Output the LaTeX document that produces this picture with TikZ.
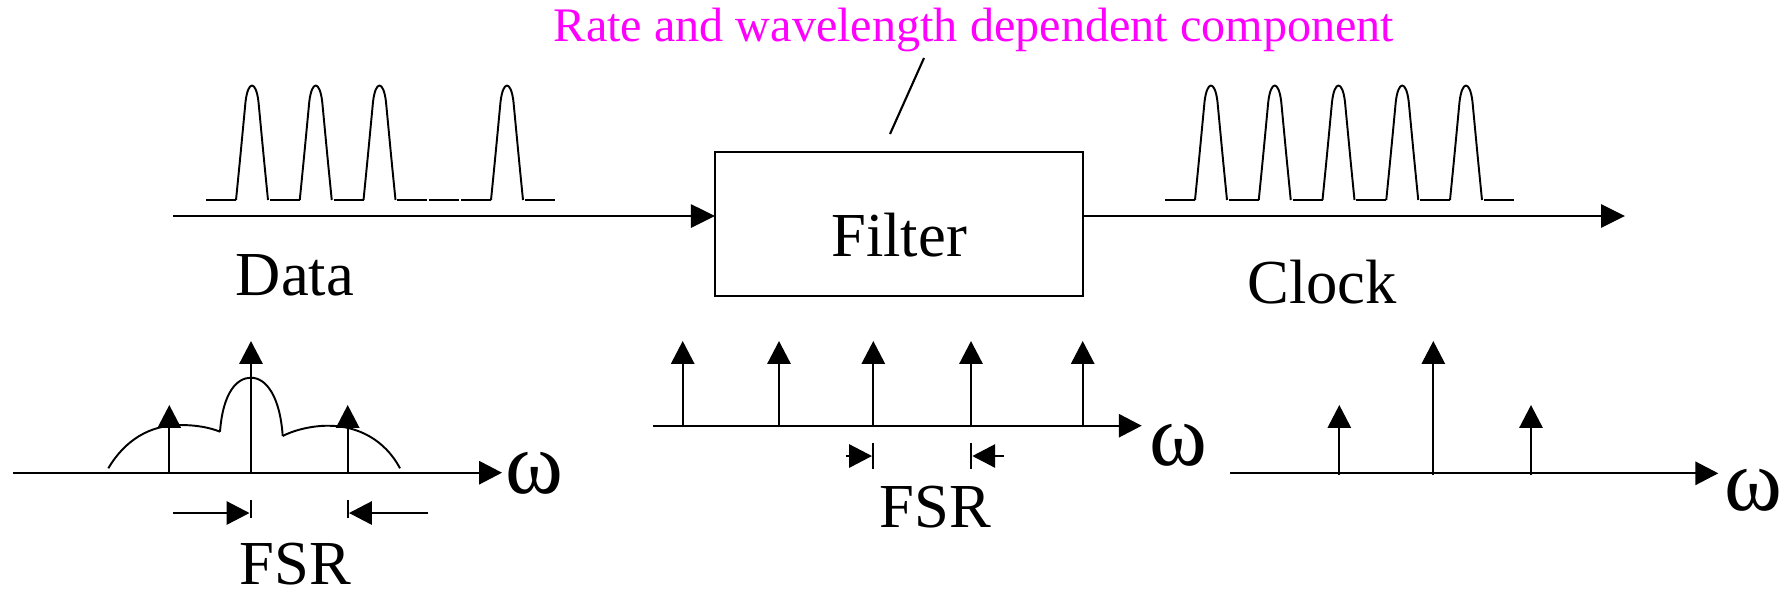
\documentclass[tikz,border=0pt]{standalone}
\usepackage{fontspec}
\setmainfont{Liberation Serif}
\usepackage{xcolor}
\definecolor{tagpink}{RGB}{255,0,255}
\usetikzlibrary{arrows.meta, positioning}

\begin{document}
\begin{tikzpicture}[
        x=0.01cm, y=-0.01cm,
        every node/.style={inner sep=0pt, outer sep=0pt},
        block/.style={
            rectangle,
            draw,
            line width=0.75pt,
            minimum width=3.68cm,
            minimum height=1.44cm,
            text height=0.64cm,
            text depth=0pt,
            font=\fontsize{17.8}{20}\selectfont
        },
        caption/.style={anchor=base, font=\fontsize{17.8}{20}\selectfont},
        note/.style={anchor=base, text=tagpink, font=\fontsize{13.7}{16}\selectfont},
        omega/.style={anchor=west, font=\fontsize{25}{27}\selectfont},
        line/.style={draw, line width=0.6pt, -{Triangle[length=6.8pt, width=6.6pt]}},
        spike/.style={line width=0.6pt, -{Triangle[length=6.5pt, width=6.6pt]}},
        wave/.style={line width=0.55pt, line join=round}
    ]
        \useasboundingbox (0,0) rectangle (1788,596);

        % Nodes
        \node [block] (filter) at (899,224) {Filter};
        \node [note] (tag) at (974,41) {Rate and wavelength dependent component};
        \node [caption] (data) at (295,295) {Data};
        \node [caption] (clock) at (1322,303) {Clock};

        \coordinate (tagtop) at (924,58);
        \coordinate (tagbot) at (890,134);
        \coordinate (datain) at (173,216);
        \coordinate (clkout) at (1625,216);

        % Edges
        \draw [line width=0.6pt] (tagtop) -- (tagbot);
        \draw [line] (datain) -- (datain -| filter.west);
        \draw [line] (clkout -| filter.east) -- (clkout);

        % Pulse trains (1 = pulse, 0 = empty slot, 9 = tail)
        \foreach \x in {206,1165} {
            \ifnum\x=206 \def\bits{1,1,1,0,1,9}\else \def\bits{1,1,1,1,1,9}\fi
            \foreach \b [count=\k from 0] in \bits {
                \pgfmathsetmacro{\xs}{\x+63.75*\k}
                \draw [wave] (\xs,200) -- (\xs+30,200);
                \ifnum\b=1
                    \draw [wave] (\xs+30,200) .. controls (\xs+34,160) .. (\xs+39.5,102)
                        .. controls (\xs+42,80) and (\xs+50,80) .. (\xs+52.5,102)
                        .. controls (\xs+58,160) .. (\xs+62,200);
                \fi
                \ifnum\b=0
                    \draw [wave] (\xs+32,200) -- (\xs+62,200);
                \fi
            }
        }

        % Spectrum of the data
        \coordinate (ax1s) at (13,472.7);
        \coordinate (ax1e) at (502,472.7);
        \draw [spike] (ax1s) -- (ax1e);
        \node [omega] (w1) at (505,473) {ω};
        \draw [spike] (169.3,474) -- (169.3,405);
        \draw [spike] (251,474) -- (251,341);
        \draw [spike] (347.7,474) -- (347.7,405);
        \draw [wave] (108.3,468.3) .. controls (125,440) and (150,425) .. (180,425)
            .. controls (198,425) and (211,428) .. (220,431.7);
        \draw [wave] (220,431.7) .. controls (223,392) and (237,377.7) .. (251,377.7)
            .. controls (266,377.7) and (280,396) .. (282.7,436);
        \draw [wave] (282.7,436) .. controls (292,431) and (310,425.7) .. (328,425.7)
            .. controls (358,425.7) and (385,440) .. (400,468.3);
        \draw [line width=0.6pt] (251,500) -- (251,518) (347.7,500) -- (347.7,518);
        \draw [spike] (173,513) -- (249.5,513);
        \draw [spike] (428.3,513) -- (349,513);
        \node [caption] (fsr1) at (295.5,584) {FSR};

        % Filter response
        \coordinate (ax2s) at (653,425.7);
        \coordinate (ax2e) at (1141.7,425.7);
        \draw [spike] (ax2s) -- (ax2e);
        \node [omega] (w2) at (1149,445) {ω};
        \foreach \x in {682.7,779,873.3,971,1082.7}
            \draw [spike] (\x,427) -- (\x,341);
        \draw [line width=0.6pt] (873.3,443.3) -- (873.3,469.3) (971,443.3) -- (971,469.3);
        \draw [spike] (845.7,456) -- (872,456);
        \draw [spike] (1004,456) -- (972.3,456);
        \node [caption] (fsr2) at (935.3,527) {FSR};

        % Spectrum of the clock
        \coordinate (ax3s) at (1230,473.3);
        \coordinate (ax3e) at (1718.3,473.3);
        \draw [spike] (ax3s) -- (ax3e);
        \node [omega] (w3) at (1724,490) {ω};
        \draw [spike] (1339.3,475) -- (1339.3,405);
        \draw [spike] (1433.3,475) -- (1433.3,341);
        \draw [spike] (1531,475) -- (1531,405);

    \end{tikzpicture}
\end{document}
